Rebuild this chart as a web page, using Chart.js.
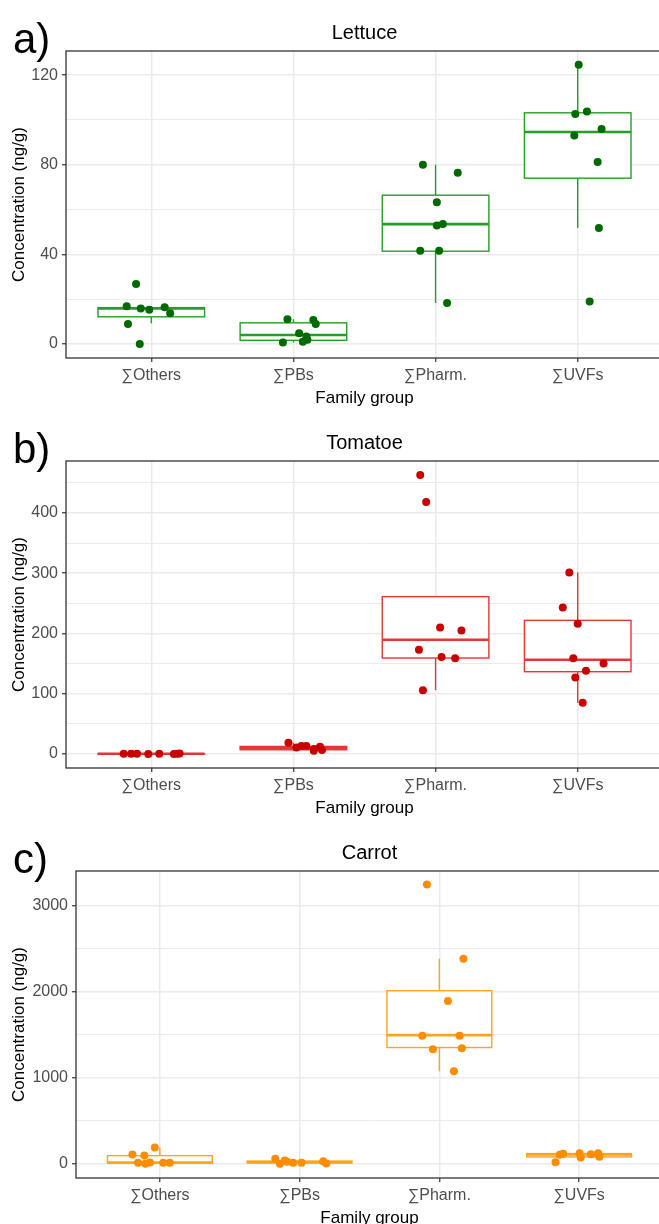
<!DOCTYPE html>
<html>
<head>
<meta charset="utf-8">
<script src="https://cdn.jsdelivr.net/npm/chart.js@4.4.1/dist/chart.umd.min.js"></script>
<style>
  html, body { margin: 0; padding: 0; background: #fff; }
  body { width: 659px; height: 1224px; overflow: hidden; position: relative; }
  .panel { position: absolute; left: 0; width: 667px; height: 410px; }
</style>
</head>
<body>
<div class="panel" style="top:0"><canvas id="lettuceChart" width="667" height="410"></canvas></div>
<div class="panel" style="top:410px"><canvas id="tomatoChart" width="667" height="410"></canvas></div>
<div class="panel" style="top:820px"><canvas id="carrotChart" width="667" height="410"></canvas></div>
<script>
const categories = ['∑Others', '∑PBs', '∑Pharm.', '∑UVFs'];

// Lettuce (ng/g), one row per family group
const lettuceValues = [
    [26.8, 16.8, 15.8, 15.2, 16.4, 13.7, 8.9, 0.0],
    [11.0, 10.7, 8.9, 4.8, 3.3, 1.8, 1.0, 0.6],
    [80.0, 76.4, 63.3, 52.9, 53.5, 41.6, 41.6, 18.3],
    [124.7, 102.7, 103.8, 96.0, 93.1, 81.2, 51.8, 18.9],
];
// jitter of each point, in category units
const lettuceJitter = [
    [-0.107, -0.173, -0.074, -0.014, 0.094, 0.133, -0.164, -0.081],
    [-0.042, 0.140, 0.157, 0.040, 0.091, 0.098, 0.066, -0.074],
    [-0.089, 0.156, 0.009, 0.009, 0.051, -0.108, 0.025, 0.081],
    [0.007, -0.017, 0.065, 0.168, -0.024, 0.140, 0.149, 0.084],
];
// lower whisker, Q1, median, Q3, upper whisker
const lettuceBoxes = [
    [9.2, 12.1, 15.8, 16.2, 16.8],
    [0.6, 1.6, 4.0, 9.4, 11.0],
    [18.3, 41.4, 53.5, 66.4, 80.0],
    [51.8, 74.0, 94.6, 103.2, 124.7],
];
const lettuceTicks = [0, 40, 80, 120];
const lettuceMinor = [20, 60, 100];

// Tomatoe (ng/g)
const tomatoValues = [
    [0.4, 0.3, 0.5, 0.2, 0.6, 0.1, 0.3, 0.8],
    [18.8, 11.0, 13.3, 13.3, 8.3, 12.1, 6.6, 5.5],
    [463, 418, 210, 205, 173, 161, 159, 106],
    [301, 243, 216, 159, 150, 138, 127, 85],
];
const tomatoJitter = [
    [-0.194, -0.142, -0.100, -0.021, 0.056, 0.159, 0.182, 0.199],
    [-0.035, 0.021, 0.056, 0.091, 0.145, 0.187, 0.201, 0.143],
    [-0.108, -0.066, 0.032, 0.182, -0.117, 0.042, 0.138, -0.089],
    [-0.059, -0.105, 0.0, -0.031, 0.182, 0.058, -0.017, 0.035],
];
const tomatoBoxes = [
    [0.0, 0.2, 0.35, 0.55, 0.8],
    [5.5, 7.0, 9.5, 12.6, 18.8],
    [106, 159.3, 189.7, 261.1, 261.1],
    [85, 136.6, 156.5, 221.8, 301],
];
const tomatoTicks = [0, 100, 200, 300, 400];
const tomatoMinor = [50, 150, 250, 350, 450];

// Carrot (ng/g)
const carrotValues = [
    [108, 97, 190, 12, 0, 15, 12, 12],
    [58, 0, 39, 23, 12, 12, 30, 3],
    [3248, 2386, 1892, 1488, 1488, 1333, 1344, 1076],
    [19, 105, 117, 124, 73, 112, 124, 82],
];
const carrotJitter = [
    [-0.196, -0.111, -0.036, -0.156, -0.104, -0.071, 0.024, 0.071],
    [-0.174, -0.141, -0.106, -0.089, -0.046, 0.014, 0.169, 0.191],
    [-0.089, 0.172, 0.061, -0.122, 0.145, -0.046, 0.161, 0.104],
    [-0.169, -0.139, -0.114, 0.003, 0.011, 0.084, 0.136, 0.145],
];
const carrotBoxes = [
    [0, 12, 14, 95, 190],
    [0, 10, 18, 32, 58],
    [1076, 1352, 1496, 2013, 2386],
    [73, 80, 108, 119, 124],
];
const carrotTicks = [0, 1000, 2000, 3000];
const carrotMinor = [500, 1500, 2500];

Chart.defaults.font.family = '"Liberation Sans", Arial, sans-serif';
Chart.defaults.animation = false;

// boxes, whiskers and medians, drawn under the points
const boxPlotPlugin = {
    id: 'boxPlot',
    beforeDatasetsDraw(chart, args, opts) {
        const { ctx, scales: { x, y } } = chart;
        ctx.save();
        ctx.strokeStyle = opts.color;
        opts.stats.forEach((s, i) => {
            const [lo, q1, med, q3, hi] = s;
            const cx = x.getPixelForValue(i + 1);
            const left = x.getPixelForValue(i + 1 - 0.375);
            const right = x.getPixelForValue(i + 1 + 0.375);
            const top = y.getPixelForValue(q3);
            const bottom = y.getPixelForValue(q1);
            ctx.lineWidth = 1.4;
            ctx.beginPath();
            ctx.moveTo(cx, top);
            ctx.lineTo(cx, y.getPixelForValue(hi));
            ctx.moveTo(cx, bottom);
            ctx.lineTo(cx, y.getPixelForValue(lo));
            ctx.stroke();
            ctx.fillStyle = '#fff';
            ctx.fillRect(left, top, right - left, bottom - top);
            ctx.strokeRect(left, top, right - left, bottom - top);
            ctx.lineWidth = 2.6;
            ctx.beginPath();
            ctx.moveTo(left, y.getPixelForValue(med));
            ctx.lineTo(right, y.getPixelForValue(med));
            ctx.stroke();
        });
        ctx.restore();
    }
};

// panel border and the a) b) c) tag
const panelFramePlugin = {
    id: 'panelFrame',
    afterDatasetsDraw(chart, args, opts) {
        const { ctx, chartArea: a } = chart;
        ctx.save();
        ctx.strokeStyle = '#333';
        ctx.lineWidth = 1.3;
        ctx.strokeRect(a.left, a.top, a.right - a.left, a.bottom - a.top);
        ctx.fillStyle = '#000';
        ctx.font = '42px "Liberation Sans", Arial, sans-serif';
        ctx.textBaseline = 'alphabetic';
        ctx.fillText(opts.label, 13, 53);
        ctx.restore();
    }
};

function makePanel(id, cfg) {
    const points = [];
    cfg.values.forEach((group, i) => {
        group.forEach((v, j) => {
            points.push({ x: i + 1 + cfg.jitter[i][j], y: v });
        });
    });
    const allTicks = cfg.ticks.concat(cfg.minor).sort((p, q) => p - q);

    return new Chart(document.getElementById(id), {
        type: 'scatter',
        data: {
            datasets: [{
                data: points,
                backgroundColor: cfg.pointColor,
                borderWidth: 0,
                pointRadius: 4,
            }],
        },
        options: {
            responsive: false,
            layout: { padding: 0 },
            plugins: {
                legend: { display: false },
                tooltip: { enabled: false },
                title: {
                    display: true,
                    text: cfg.title,
                    fullSize: false,
                    color: '#000',
                    font: { size: 20, weight: 'normal' },
                    padding: { top: 21, bottom: 6 },
                },
                boxPlot: { stats: cfg.boxes, color: cfg.boxColor },
                panelFrame: { label: cfg.label },
            },
            scales: {
                x: {
                    type: 'linear',
                    min: 0.4,
                    max: 4.6,
                    afterBuildTicks: (s) => { s.ticks = [1, 2, 3, 4].map(v => ({ value: v })); },
                    afterFit: (s) => { s.height = 52; },
                    ticks: {
                        callback: (v) => categories[v - 1],
                        color: '#4d4d4d',
                        font: { size: 16 },
                        padding: 4,
                        maxRotation: 0,
                        autoSkip: false,
                    },
                    grid: { color: '#ebebeb', lineWidth: 1.5, tickLength: 4, tickColor: '#333', tickWidth: 1.2 },
                    border: { display: false },
                    title: {
                        display: true,
                        text: 'Family group',
                        color: '#000',
                        font: { size: 17 },
                        padding: { top: 0, bottom: 1 },
                    },
                },
                y: {
                    min: cfg.yMin,
                    max: cfg.yMax,
                    afterBuildTicks: (s) => { s.ticks = allTicks.map(v => ({ value: v })); },
                    afterFit: (s) => { s.width = cfg.axisWidth; },
                    ticks: {
                        callback: (v) => (cfg.ticks.includes(v) ? String(v) : ''),
                        color: '#4d4d4d',
                        font: { size: 16 },
                        padding: 4,
                        autoSkip: false,
                    },
                    grid: {
                        color: '#ebebeb',
                        lineWidth: (c) => (c.tick && cfg.ticks.includes(c.tick.value) ? 1.5 : 1),
                        tickLength: 4,
                        tickWidth: 1.2,
                        tickColor: (c) => (c.tick && cfg.ticks.includes(c.tick.value) ? '#333' : 'rgba(0,0,0,0)'),
                    },
                    border: { display: false },
                    title: {
                        display: true,
                        text: 'Concentration (ng/g)',
                        color: '#000',
                        font: { size: 17 },
                        padding: { top: 9, bottom: 0 },
                    },
                },
            },
        },
        plugins: [boxPlotPlugin, panelFramePlugin],
    });
}

makePanel('lettuceChart', {
    title: 'Lettuce', label: 'a)',
    values: lettuceValues, jitter: lettuceJitter, boxes: lettuceBoxes,
    ticks: lettuceTicks, minor: lettuceMinor, yMin: -6.3, yMax: 130.8,
    pointColor: '#006a00', boxColor: '#23a023', axisWidth: 66,
});

makePanel('tomatoChart', {
    title: 'Tomatoe', label: 'b)',
    values: tomatoValues, jitter: tomatoJitter, boxes: tomatoBoxes,
    ticks: tomatoTicks, minor: tomatoMinor, yMin: -23.2, yMax: 486.2,
    pointColor: '#c80000', boxColor: '#e53535', axisWidth: 66,
});

makePanel('carrotChart', {
    title: 'Carrot', label: 'c)',
    values: carrotValues, jitter: carrotJitter, boxes: carrotBoxes,
    ticks: carrotTicks, minor: carrotMinor, yMin: -165, yMax: 3405,
    pointColor: '#ff8c00', boxColor: '#ffa31a', axisWidth: 76,
});
</script>
</body>
</html>
